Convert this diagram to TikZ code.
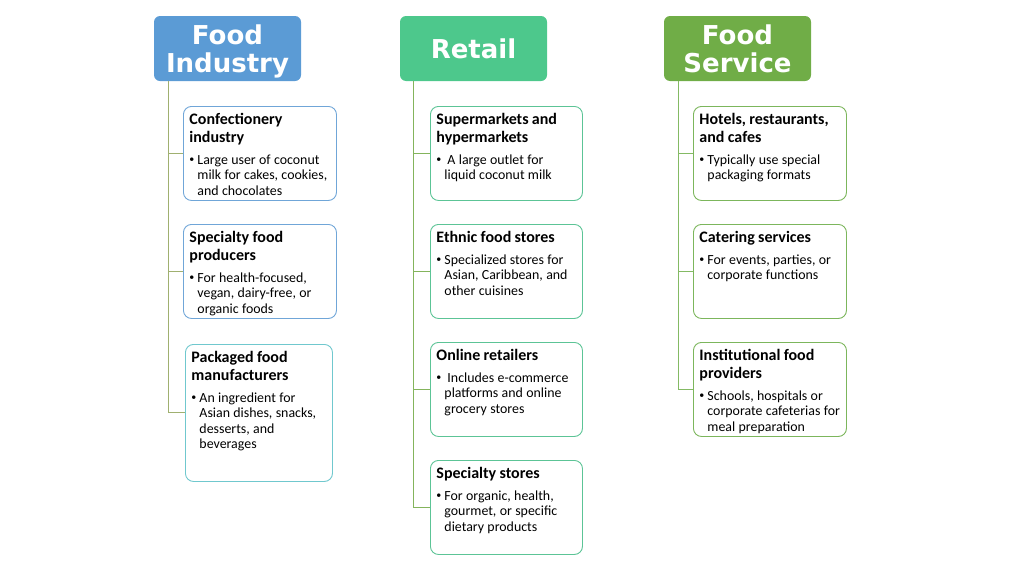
\documentclass[tikz,border=0pt]{standalone}
\usepackage{fontspec}
\setmainfont{Carlito}
\newfontfamily\headfont{DejaVu Sans}
\usepackage{tikz}

\definecolor{fiHeadCol}{RGB}{91,155,213}
\definecolor{fiEdge}{RGB}{112,166,216}
\definecolor{fiEdgeTeal}{RGB}{112,200,206}
\definecolor{fiLineCol}{RGB}{160,176,112}
\definecolor{rtHeadCol}{RGB}{77,200,140}
\definecolor{rtEdge}{RGB}{92,196,150}
\definecolor{rtLineCol}{RGB}{132,180,92}
\definecolor{fsHeadCol}{RGB}{112,173,71}
\definecolor{fsEdge}{RGB}{124,182,92}
\definecolor{fsLineCol}{RGB}{132,186,100}

\newcommand{\ttl}[1]{{\fontsize{16}{18}\selectfont\bfseries #1\par}}
\newcommand{\blt}[1]{\vspace{6pt}{\fontsize{13.9}{15.6}\selectfont\hangindent=8pt\hangafter=1\noindent\makebox[8pt][l]{\raisebox{1.2pt}{\fontsize{10}{10}\selectfont\textbullet}}#1\par}}

\tikzset{
  head/.style={rounded corners=6pt, minimum width=147pt, minimum height=65pt, inner sep=0pt,
    text=white, align=center, font=\headfont\bfseries\fontsize{26}{28}\selectfont},
  item/.style={draw, line width=0.9pt, rounded corners=8pt, fill=white, anchor=north west,
    inner xsep=6pt, inner ysep=0pt, text height=18pt, align=left},
  link/.style={line width=1pt}
}

\begin{document}
\begin{tikzpicture}[x=1pt,y=-1pt]
\useasboundingbox (0,0) rectangle (1024,576);

\node[head, fill=fiHeadCol] (fiHead) at (227.5,48.5) {\rule{0pt}{26pt}Food\\Industry};
\node[head, fill=rtHeadCol] (rtHead) at (473.5,48.5) {Retail};
\node[head, fill=fsHeadCol] (fsHead) at (737.5,48.5) {Food\\Service};

\coordinate (fiTrunk) at ([xshift=15pt]fiHead.south west);
\coordinate (rtTrunk) at ([xshift=14pt]rtHead.south west);
\coordinate (fsTrunk) at ([xshift=15pt]fsHead.south west);

\node[item, draw=fiEdge, text width=141pt, text depth=76pt] (fiConf) at (183,106)
  {\ttl{Confectionery\\industry}\blt{Large user of coconut\newline milk for cakes, cookies,\newline and chocolates}};
\node[item, draw=fiEdge, text width=141pt, text depth=76pt] (fiSpec) at (183,224)
  {\ttl{Specialty food\\producers}\blt{For health-focused,\newline vegan, dairy-free, or\newline organic foods}};
\node[item, draw=fiEdgeTeal, text width=135pt, text depth=119pt] (fiPack) at (185,344)
  {\ttl{Packaged food\\manufacturers}\blt{An ingredient for\newline Asian dishes, snacks,\newline desserts, and\newline beverages}};

\node[item, draw=rtEdge, text width=140pt, text depth=76pt] (rtSuper) at (430,106)
  {\ttl{Supermarkets and\\hypermarkets}\blt{\hspace{3pt}A large outlet for\newline liquid coconut milk}};
\node[item, draw=rtEdge, text width=140pt, text depth=76pt] (rtEthnic) at (430,224)
  {\ttl{Ethnic food stores}\blt{Specialized stores for\newline Asian, Caribbean, and\newline other cuisines}};
\node[item, draw=rtEdge, text width=140pt, text depth=76pt] (rtOnline) at (430,342)
  {\ttl{Online retailers}\blt{\hspace{3pt}Includes e-commerce\newline platforms and online\newline grocery stores}};
\node[item, draw=rtEdge, text width=140pt, text depth=76pt] (rtSpec) at (430,460)
  {\ttl{Specialty stores}\blt{For organic, health,\newline gourmet, or specific\newline dietary products}};

\node[item, draw=fsEdge, text width=141pt, text depth=76pt] (fsHotel) at (693,106)
  {\ttl{Hotels, restaurants,\\and cafes}\blt{Typically use special\newline packaging formats}};
\node[item, draw=fsEdge, text width=141pt, text depth=76pt] (fsCater) at (693,224)
  {\ttl{Catering services}\blt{For events, parties, or\newline corporate functions}};
\node[item, draw=fsEdge, text width=141pt, text depth=76pt] (fsInst) at (693,342)
  {\ttl{Institutional food\\providers}\blt{Schools, hospitals or\newline corporate cafeterias for\newline meal preparation}};

\draw[link, fiLineCol] (fiTrunk) |- (fiConf.west);
\draw[link, fiLineCol] (fiTrunk) |- (fiSpec.west);
\draw[link, fiLineCol] (fiTrunk) |- (fiPack.west);
\draw[link, rtLineCol] (rtTrunk) |- (rtSuper.west);
\draw[link, rtLineCol] (rtTrunk) |- (rtEthnic.west);
\draw[link, rtLineCol] (rtTrunk) |- (rtOnline.west);
\draw[link, rtLineCol] (rtTrunk) |- (rtSpec.west);
\draw[link, fsLineCol] (fsTrunk) |- (fsHotel.west);
\draw[link, fsLineCol] (fsTrunk) |- (fsCater.west);
\draw[link, fsLineCol] (fsTrunk) |- (fsInst.west);
\end{tikzpicture}
\end{document}
